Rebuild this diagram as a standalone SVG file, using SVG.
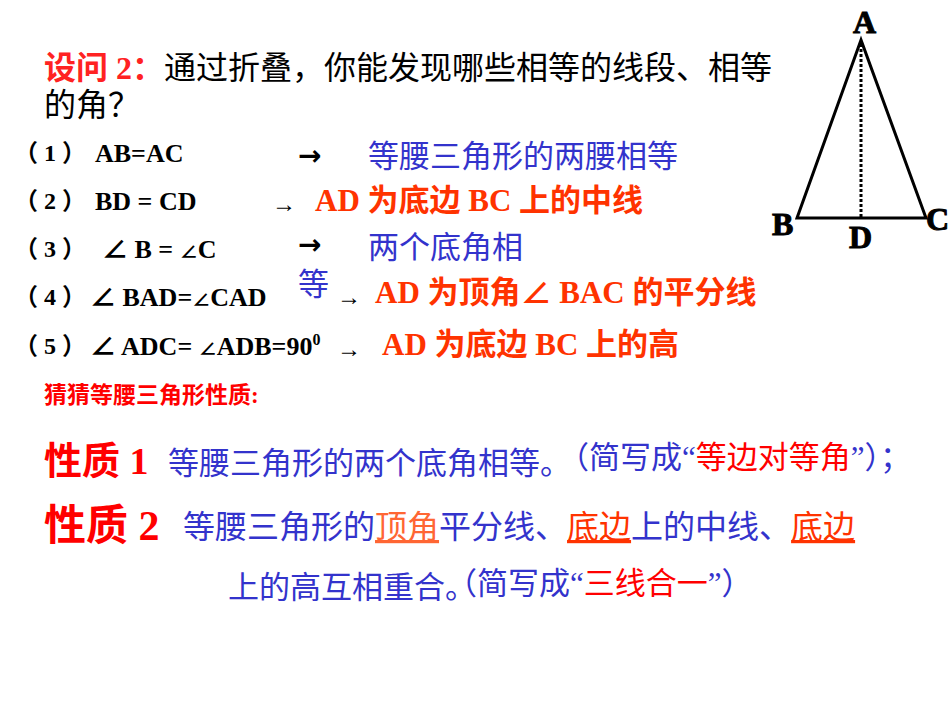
<svg xmlns="http://www.w3.org/2000/svg" width="950" height="713" viewBox="0 0 950 713">
<style>
text{font-family:"Liberation Serif","Noto Sans CJK SC",serif;}
.k{fill:#000;font-size:26px;font-weight:bold}
.p{fill:#000;font-size:24px;font-weight:bold}
.ar{fill:#000;font-size:28px;font-weight:bold;font-family:"DejaVu Sans",sans-serif}
.ar2{fill:#000;font-size:24px;font-family:"Liberation Serif",serif}
.b{fill:#3333cc;font-size:31px}
.o{fill:#ff3300;font-size:31px;font-weight:bold}
.r{fill:#ff0000}
.lbl{font-size:32px;font-weight:900;fill:#000;stroke:#000;stroke-width:1}
</style>
<rect width="950" height="713" fill="#fff"/>
<g id="title">
<text x="44" y="79" font-size="32"><tspan fill="#ff2222" font-weight="bold">设问 2：</tspan><tspan fill="#000">通过折叠，你能发现哪些相等的线段、相等</tspan></text>
<text x="44" y="116" font-size="32" fill="#000">的角？</text>
</g>
<g id="items">
<text class="p" x="14" y="161">（ 1 ）</text>
<text class="p" x="14" y="209">（ 2 ）</text>
<text class="p" x="14" y="257">（ 3 ）</text>
<text class="p" x="14" y="305">（ 4 ）</text>
<text class="p" x="14" y="354">（ 5 ）</text>
<text class="k" x="95" y="162">AB=AC</text>
<text class="k" x="95" y="210">BD = CD</text>
<text class="k" x="102" y="258">∠ B = <tspan font-size="18">∠</tspan>C</text>
<text class="k" x="90" y="306">∠ BAD=<tspan font-size="18">∠</tspan>CAD</text>
<text class="k" x="90" y="355">∠ ADC= <tspan font-size="18">∠</tspan>ADB=90<tspan font-size="16" dy="-10">0</tspan></text>
<text class="ar" x="298" y="165">→</text>
<text class="ar2" x="272" y="212">→</text>
<text class="ar" x="298" y="254">→</text>
<text class="ar2" x="337" y="305">→</text>
<text class="ar2" x="337" y="357">→</text>
<text class="b" x="368" y="167">等腰三角形的两腰相等</text>
<text class="o" x="315" y="211">AD 为底边 BC 上的中线</text>
<text class="b" x="368" y="258">两个底角相</text>
<text class="b" x="298" y="295">等</text>
<text class="o" x="375" y="303">AD 为顶角∠ BAC 的平分线</text>
<text class="o" x="382" y="355">AD 为底边 BC 上的高</text>
</g>
<g id="guess"><text x="44" y="403" font-size="23" font-weight="bold" fill="#ff0000">猜猜等腰三角形性质:</text></g>
<g id="p1">
<text x="44" y="474" font-size="38" class="r" font-weight="bold">性质 1</text>
<text x="168" y="474" font-size="31" fill="#3333cc">等腰三角形的两个底角相等。</text>
<text x="558" y="468" font-size="31" fill="#3333cc">（简写成“<tspan fill="#ff0000">等边对等角</tspan>”）；</text>
</g>
<g id="p2">
<text x="44" y="540" font-size="42" class="r" font-weight="bold">性质 2</text>
<text x="183" y="538" font-size="32" fill="#3333cc">等腰三角形的<tspan fill="#ff6633" text-decoration="underline">顶角</tspan>平分线、<tspan fill="#ff3300" text-decoration="underline">底边</tspan>上的中线、<tspan fill="#ff3300" text-decoration="underline">底边</tspan></text>
<text x="228" y="598" font-size="31" fill="#3333cc">上的高互相重合。</text>
<text x="446" y="594" font-size="31" fill="#3333cc">（简写成“<tspan fill="#ff0000">三线合一</tspan>”）</text>
</g>
<g id="triangle">
<polygon points="861,40 797,218 926,218" fill="none" stroke="#000" stroke-width="3"/>
<line x1="861" y1="44" x2="861" y2="218" stroke="#000" stroke-width="3" stroke-dasharray="3,2"/>
<text class="lbl" x="853" y="33">A</text>
<text class="lbl" x="772" y="235">B</text>
<text class="lbl" x="926" y="230">C</text>
<text class="lbl" x="849" y="248">D</text>
</g>
</svg>
